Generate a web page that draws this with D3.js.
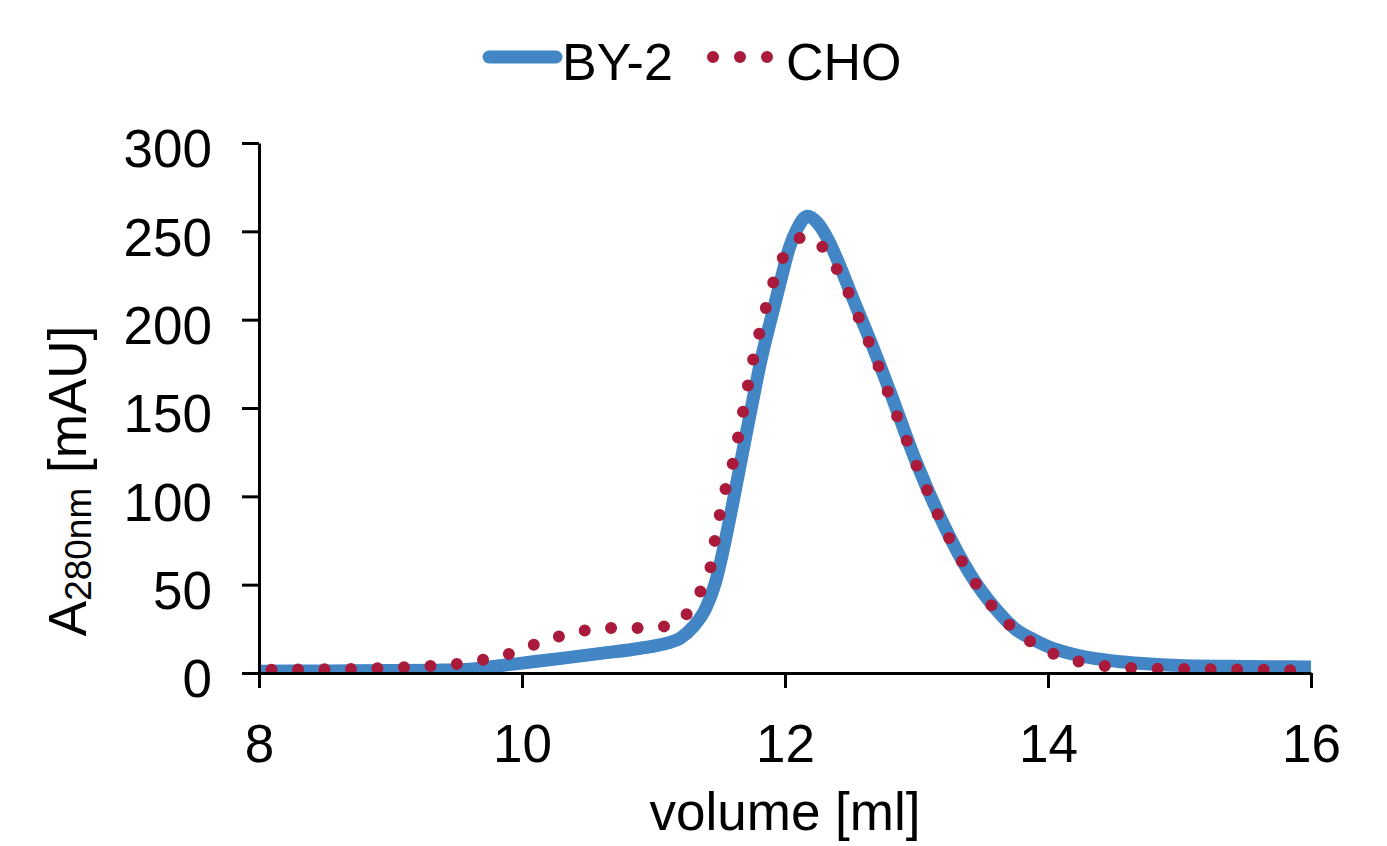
<!DOCTYPE html>
<html lang="en">
  <head>
    <meta charset='utf-8'>
    <script src='https://d3js.org/d3.v7.min.js'></script>
    <title>BY-2 vs CHO elution</title>
    <style>
      body {
        margin: 0px;
        background: #fff;
      }
      text {
        font-family: 'Liberation Sans', Arial, sans-serif;
        fill: #000;
      }
      .axis path, .axis line {
        stroke: #000;
        stroke-width: 3;
      }
      .axis text {
        font-size: 53px;
      }
    </style>
  </head>
  <body>
    <div id='viz'></div>
    <script>

      // BY-2 trace (solid blue)
      const by2Volume = [8.0, 8.5, 9.0, 9.4, 9.6, 9.8, 10.0, 10.3, 10.6, 10.9, 11.1, 11.2, 11.3, 11.4,
        11.47, 11.54, 11.6, 11.665, 11.741, 11.817, 11.916, 11.977, 12.03, 12.09, 12.17, 12.25, 12.33,
        12.42, 12.5, 12.58, 12.66, 12.8, 13.0, 13.2, 13.4, 13.6, 13.75, 13.9, 14.0, 14.1, 14.2, 14.35,
        14.55, 14.8, 15.0, 15.5, 16.0];
      const by2Abs = [1.0, 1.2, 1.4, 1.7, 2.2, 3.8, 5.6, 8.3, 11.1, 14.0, 16.8, 19.5, 26, 37,
        51, 73, 95, 120, 149, 177, 207, 225, 240, 251, 258.5, 254.5, 245,
        230, 215, 200.5, 186, 159, 119, 85, 57, 36.5, 25, 18.5, 15, 12.5, 10.5, 8.3,
        6.4, 5, 4.3, 3.7, 3.4];

      // CHO trace (red dotted)
      const choVolume = [8.0, 8.3, 8.5, 8.7, 8.9, 9.1, 9.3, 9.5, 9.7, 9.9, 10.1, 10.3, 10.5, 10.7, 10.9,
        11.1, 11.27, 11.37, 11.44, 11.47, 11.51, 11.555, 11.612, 11.65, 11.688, 11.726, 11.767, 11.815,
        11.865, 11.924, 12.005, 12.154, 12.312, 12.416, 12.502, 12.578, 12.656, 12.73, 12.798, 12.872,
        12.945, 13.019, 13.103, 13.184, 13.276, 13.376, 13.485, 13.61, 13.754, 13.919, 14.101, 14.299,
        14.5, 14.702, 14.905, 15.108, 15.31, 15.513, 15.716, 15.914, 16.0];
      const choAbs = [1.7, 2.0, 2.1, 2.3, 2.7, 3.2, 4.0, 5.1, 7.4, 10.8, 16.2, 21.1, 24.3, 25.5, 25.5,
        26.6, 34.9, 48.3, 62.1, 76.8, 91.7, 106.4, 121.3, 136.1, 150.8, 165.7, 180.6, 195.2,
        209.6, 224.0, 237.9, 247.0, 238.7, 225.5, 212.1, 198.0, 184.0, 170.0, 155.9, 141.7,
        127.9, 114.0, 99.8, 86.2, 72.4, 59.4, 46.8, 34.7, 24.1, 15.5, 9.2, 5.5,
        3.4, 2.6, 2.3, 2.3, 2.1, 1.9, 1.7, 1.5, 1.5];

      const xTicks = [8, 10, 12, 14, 16];
      const yTicks = [0, 50, 100, 150, 200, 250, 300];
      const seriesNames = ['BY-2', 'CHO'];

      const blue = '#4286c5';
      const red = '#aa1a3b';

      const width = 1387, height = 846;
      const margin = { left: 259, right: 76, top: 143, bottom: 173 };
      const innerWidth = width - margin.left - margin.right;
      const innerHeight = height - margin.top - margin.bottom;

      const svg = d3.select('#viz').append('svg')
        .attr('width', width)
        .attr('height', height);

      const xScale = d3.scaleLinear().domain([8, 16]).range([0, innerWidth]);
      const yScale = d3.scaleLinear().domain([0, 300]).range([innerHeight, 0]);

      const g = svg.append('g')
        .attr('transform', `translate(${margin.left},${margin.top})`);

      g.append('clipPath').attr('id', 'plot-clip')
        .append('rect')
        .attr('x', 0).attr('y', -40)
        .attr('width', innerWidth).attr('height', innerHeight + 40);

      const line = d3.line()
        .x(d => xScale(d[0]))
        .y(d => yScale(d[1]))
        .curve(d3.curveMonotoneX);

      const by2 = by2Volume.map((v, i) => [v, by2Abs[i]]);
      const cho = choVolume.map((v, i) => [v, choAbs[i]]);

      const lines = g.append('g').attr('clip-path', 'url(#plot-clip)');

      lines.append('path')
        .datum(by2)
        .attr('fill', 'none')
        .attr('stroke', blue)
        .attr('stroke-width', 13)
        .attr('stroke-linejoin', 'round')
        .attr('d', line);

      lines.append('path')
        .datum(cho)
        .attr('fill', 'none')
        .attr('stroke', red)
        .attr('stroke-width', 12)
        .attr('stroke-linecap', 'round')
        .attr('stroke-dasharray', '0 26.5')
        .attr('stroke-dashoffset', 14)
        .attr('d', line);

      // axes
      const yAxis = d3.axisLeft(yScale)
        .tickValues(yTicks)
        .tickSize(17)
        .tickSizeOuter(0)
        .tickPadding(30);

      const xAxis = d3.axisBottom(xScale)
        .tickValues(xTicks)
        .tickSize(15)
        .tickSizeOuter(0)
        .tickFormat(d3.format('d'));

      const yAxisG = g.append('g').attr('class', 'axis').call(yAxis);
      yAxisG.selectAll('.tick text').attr('dy', '0.45em');

      const xAxisG = g.append('g').attr('class', 'axis')
        .attr('transform', `translate(0,${innerHeight})`)
        .call(xAxis);
      xAxisG.selectAll('.tick text').attr('y', 89).attr('dy', 0);

      svg.selectAll('.axis').attr('font-family', null).attr('font-size', null);

      // axis titles
      g.append('text')
        .attr('x', innerWidth / 2)
        .attr('y', innerHeight + 157)
        .attr('text-anchor', 'middle')
        .style('font-size', '53px')
        .text('volume [ml]');

      const yTitle = svg.append('text')
        .attr('transform', 'translate(86,481) rotate(-90)')
        .attr('text-anchor', 'middle')
        .style('font-size', '53px');
      yTitle.append('tspan').text('A');
      yTitle.append('tspan').attr('dy', 5).style('font-size', '37px').text('280nm');
      yTitle.append('tspan').attr('dy', -5).text(' [mAU]');

      // legend
      const legend = svg.append('g');
      legend.append('line')
        .attr('x1', 489).attr('x2', 556).attr('y1', 57).attr('y2', 57)
        .attr('stroke', blue).attr('stroke-width', 13).attr('stroke-linecap', 'round');
      legend.append('text')
        .attr('x', 562).attr('y', 80)
        .style('font-size', '52px')
        .text(seriesNames[0]);
      legend.append('line')
        .attr('x1', 713).attr('x2', 768).attr('y1', 57).attr('y2', 57)
        .attr('stroke', red).attr('stroke-width', 12).attr('stroke-linecap', 'round')
        .attr('stroke-dasharray', '0 27');
      legend.append('text')
        .attr('x', 786).attr('y', 80)
        .style('font-size', '52px')
        .text(seriesNames[1]);

    </script>
  </body>
</html>
